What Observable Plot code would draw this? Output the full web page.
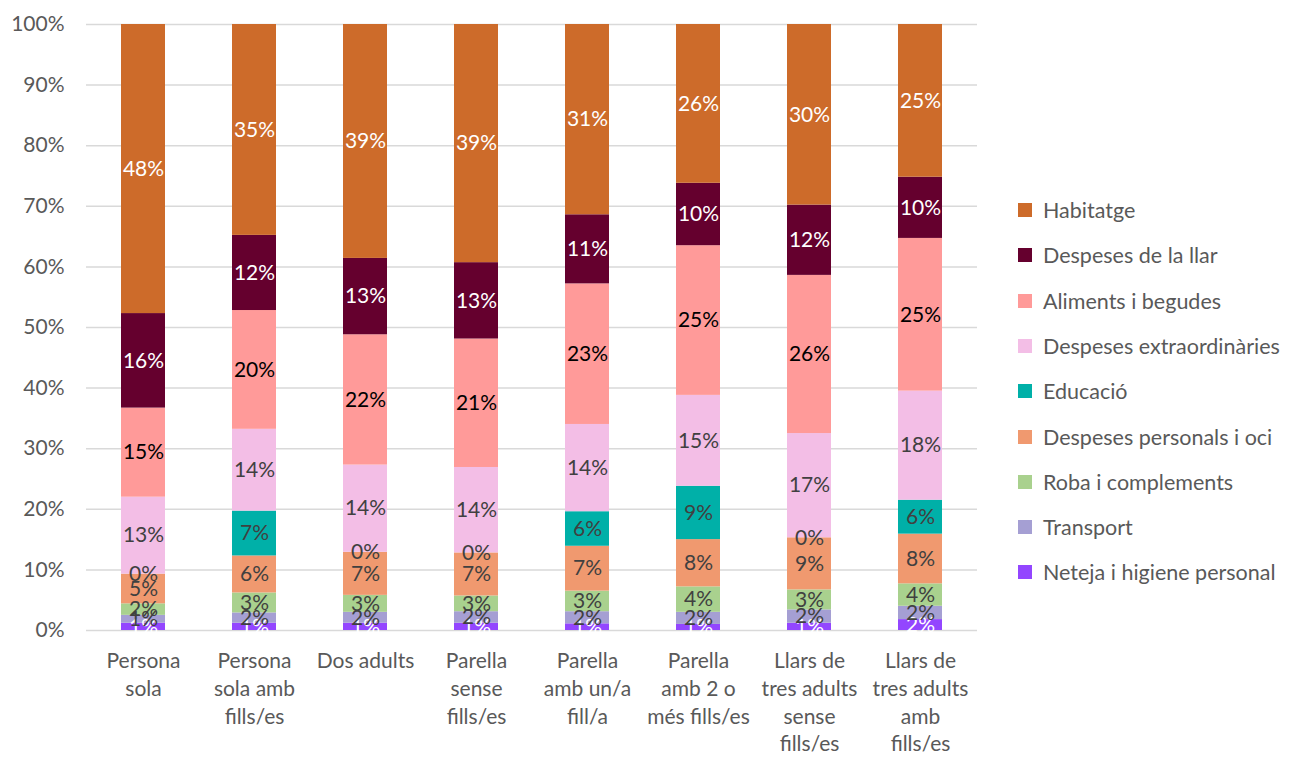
<!DOCTYPE html>
<html>
<head>
<meta charset="utf-8">
<script src="https://cdn.jsdelivr.net/npm/d3@7"></script>
<script src="https://cdn.jsdelivr.net/npm/@observablehq/plot@0.6"></script>
<style>
  html, body { margin: 0; padding: 0; background: #fff; }
  #wrap { position: relative; width: 1290px; height: 758px; font-family: Lato, sans-serif; }
  #legend { position: absolute; left: 1018px; top: 0; }
  .item { position: absolute; left: 0; display: flex; align-items: center; white-space: nowrap; color: #595959; font-size: 21.5px; transform: translateY(-50%); }
  .sw { width: 14px; height: 14px; margin-right: 11px; }
</style>
</head>
<body>
<div id="wrap"><div id="chart"></div><div id="legend"></div></div>
<script>
// Categories (x axis) and their printed labels
const categories = ["Persona sola", "Persona sola amb fills/es", "Dos adults", "Parella sense fills/es",
  "Parella amb un/a fill/a", "Parella amb 2 o més fills/es", "Llars de tres adults sense fills/es", "Llars de tres adults amb fills/es"];
const tickLabels = ["Persona\nsola", "Persona\nsola amb\nfills/es", "Dos adults", "Parella\nsense\nfills/es",
  "Parella\namb un/a\nfill/a", "Parella\namb 2 o\nmés fills/es", "Llars de\ntres adults\nsense\nfills/es", "Llars de\ntres adults\namb\nfills/es"];

// Series, bottom of the stack first
const series = ["Neteja i higiene personal", "Transport", "Roba i complements", "Despeses personals i oci",
  "Educació", "Despeses extraordinàries", "Aliments i begudes", "Despeses de la llar", "Habitatge"];
const seriesColors = ["#9346FF", "#A59FD3", "#A9D18E", "#F0996F", "#00B0A8", "#F3BEE6", "#FF9A99", "#65002E", "#CD6B2A"];
const labelColors  = ["#FFFFFF", "#404040", "#404040", "#404040", "#404040", "#404040", "#000000", "#FFFFFF", "#FFFFFF"];

// Values (%), one array per series, in category order
const neteja        = [1.2, 1.2, 1.2, 1.2, 1.1, 1.0, 1.2, 1.8];
const transport     = [1.3, 1.7, 1.8, 1.9, 2.0, 2.0, 2.2, 2.2];
const roba          = [1.9, 3.3, 2.8, 2.6, 3.4, 4.2, 3.3, 3.7];
const personals     = [4.9, 6.1, 7.1, 7.1, 7.4, 7.8, 8.6, 8.2];
const educacio      = [0, 7.4, 0, 0, 5.7, 8.8, 0, 5.6];
const extraord      = [12.7, 13.5, 14.4, 14.1, 14.4, 15.0, 17.2, 18.0];
const aliments      = [14.7, 19.6, 21.5, 21.2, 23.2, 24.7, 26.1, 25.2];
const despesesLlar  = [15.6, 12.4, 12.6, 12.6, 11.4, 10.3, 11.6, 10.1];
const habitatge     = [47.7, 34.8, 38.6, 39.3, 31.4, 26.2, 29.8, 25.2];
const valuesBySeries = [neteja, transport, roba, personals, educacio, extraord, aliments, despesesLlar, habitatge];

const yTicks = [0, 10, 20, 30, 40, 50, 60, 70, 80, 90, 100];

const data = [];
series.forEach((s, si) => categories.forEach((c, ci) => data.push({cat: c, series: s, si, value: valuesBySeries[si][ci]})));
const labelOf = Object.fromEntries(categories.map((c, i) => [c, tickLabels[i]]));

const chart = Plot.plot({
  width: 1000,
  height: 758,
  marginLeft: 86,
  marginRight: 23,
  marginTop: 24,
  marginBottom: 128,
  style: {fontFamily: "Lato, sans-serif", fontSize: "21px", color: "#595959", background: "#fff"},
  x: {type: "band", domain: categories, paddingInner: 0.6, paddingOuter: 0.3},
  y: {domain: [0, 100]},
  marks: [
    Plot.gridY(yTicks, {stroke: "#D9D9D9", strokeOpacity: 1, strokeWidth: 1.5}),
    Plot.barY(data, Plot.stackY({x: "cat", y: "value", fill: d => seriesColors[d.si]})),
    Plot.text(data, Plot.stackY({x: "cat", y: "value", text: d => Math.round(d.value) + "%", fill: d => labelColors[d.si], fontSize: 21})),
    Plot.axisY({ticks: yTicks, tickFormat: d => d + "%", tickSize: 0, tickPadding: 22, label: null, fontSize: 21}),
    Plot.axisX({tickSize: 0, tickPadding: 18, tickFormat: d => labelOf[d], lineHeight: 1.32, label: null, fontSize: 21})
  ]
});
document.getElementById("chart").appendChild(chart);

// Legend, top entry first
const legend = document.getElementById("legend");
series.slice().reverse().forEach((s, i) => {
  const si = series.indexOf(s);
  const row = document.createElement("div");
  row.className = "item";
  row.style.top = (210 + 45.3 * i) + "px";
  row.innerHTML = `<span class="sw" style="background:${seriesColors[si]}"></span><span>${s}</span>`;
  legend.appendChild(row);
});
</script>
</body>
</html>
